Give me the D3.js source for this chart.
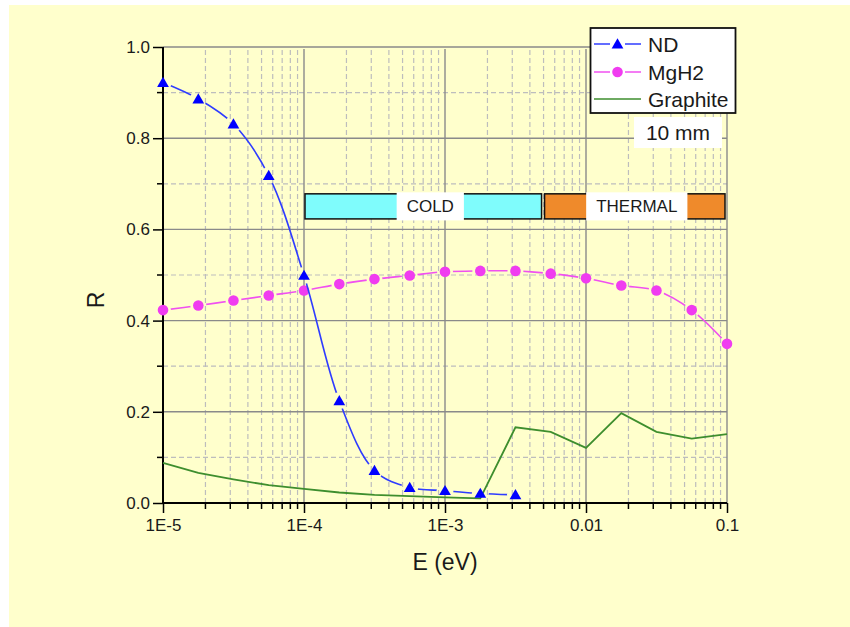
<!DOCTYPE html>
<html>
<head>
  <script src="https://d3js.org/d3.v7.min.js"></script>
  <style>
    body { margin: 0; background: #ffffff; }
    text { font-family: "Liberation Sans", Arial, sans-serif; fill: #1a1a1a; }
  </style>
</head>
<body>
  <svg id="chart" width="850" height="627"></svg>
  <script>
    // energies (eV), quarter-decade steps
    const energy = [1e-5, 1.78e-5, 3.16e-5, 5.62e-5, 1e-4, 1.78e-4, 3.16e-4, 5.62e-4,
      1e-3, 1.78e-3, 3.16e-3, 5.62e-3, 1e-2, 1.78e-2, 3.16e-2, 5.62e-2, 0.1];

    const ndValues = [0.922, 0.886, 0.831, 0.718, 0.499, 0.224, 0.071, 0.034, 0.027, 0.021, 0.018];
    const mgh2Values = [0.423, 0.433, 0.444, 0.455, 0.466, 0.480, 0.491, 0.499, 0.507,
      0.509, 0.509, 0.503, 0.493, 0.477, 0.466, 0.423, 0.349];
    const graphiteValues = [0.088, 0.066, 0.052, 0.039, 0.031, 0.023, 0.018, 0.015, 0.0125,
      0.010, 0.166, 0.156, 0.121, 0.197, 0.156, 0.141, 0.151];

    const seriesNames = ['ND', 'MgH2', 'Graphite'];
    const bandLabels = ['COLD', 'THERMAL'];
    const bandEdges = [[1e-4, 5e-3], [5e-3, 0.1]];
    const bandR = [0.623, 0.678];

    const yTicks = [0, 0.2, 0.4, 0.6, 0.8, 1.0];
    const yMinor = [0.1, 0.3, 0.5, 0.7, 0.9];
    const xTicks = [1e-5, 1e-4, 1e-3, 1e-2, 0.1];
    const xTickLabels = ['1E-5', '1E-4', '1E-3', '0.01', '0.1'];

    const svg = d3.select('#chart');
    const pLeft = 163, pRight = 727, pTop = 47, pBottom = 503;

    const x = d3.scaleLog().domain([1e-5, 0.1]).range([pLeft, pRight]);
    const y = d3.scaleLinear().domain([0, 1]).range([pBottom, pTop]);

    // background panel
    svg.append('rect').attr('x', 9).attr('y', 5).attr('width', 841).attr('height', 622)
      .attr('fill', '#ffffcc');

    // minor x values 2..9 per decade
    const xMinor = [];
    xTicks.slice(0, -1).forEach(d => { for (let k = 2; k <= 9; k++) xMinor.push(d * k); });

    const grid = svg.append('g');
    grid.selectAll('.vminor').data(xMinor).enter().append('line')
      .attr('x1', d => x(d)).attr('x2', d => x(d)).attr('y1', pBottom).attr('y2', pTop + 2)
      .attr('stroke', '#bdbdbd').attr('stroke-width', 1.2).attr('stroke-dasharray', '5,3');
    grid.selectAll('.hminor').data(yMinor).enter().append('line')
      .attr('x1', pLeft).attr('x2', pRight).attr('y1', d => y(d)).attr('y2', d => y(d))
      .attr('stroke', '#bdbdbd').attr('stroke-width', 1.2).attr('stroke-dasharray', '5,3');
    grid.selectAll('.vmajor').data(xTicks.slice(1)).enter().append('line')
      .attr('x1', d => x(d)).attr('x2', d => x(d)).attr('y1', pBottom).attr('y2', pTop + 2)
      .attr('stroke', '#8a8a8a').attr('stroke-width', 1.4);
    grid.selectAll('.hmajor').data(yTicks.slice(1)).enter().append('line')
      .attr('x1', pLeft).attr('x2', pRight).attr('y1', d => y(d)).attr('y2', d => y(d))
      .attr('stroke', '#8a8a8a').attr('stroke-width', 1.4);

    // axes
    const yAxis = svg.append('g').attr('transform', `translate(${pLeft},0)`)
      .call(d3.axisLeft(y).tickValues(yTicks).tickFormat(d3.format('.1f')).tickSize(10).tickPadding(3));
    yAxis.append('g').selectAll('line').data(yMinor).enter().append('line')
      .attr('x1', -6).attr('x2', 0).attr('y1', d => y(d)).attr('y2', d => y(d))
      .attr('stroke', '#000').attr('stroke-width', 1.5);

    const xAxis = svg.append('g').attr('transform', `translate(0,${pBottom})`)
      .call(d3.axisBottom(x).tickValues(xTicks).tickFormat((d, i) => xTickLabels[i]).tickSize(10).tickPadding(6));
    xAxis.append('g').selectAll('line').data(xMinor).enter().append('line')
      .attr('x1', d => x(d)).attr('x2', d => x(d)).attr('y1', 0).attr('y2', 6)
      .attr('stroke', '#000').attr('stroke-width', 1.5);

    [yAxis, xAxis].forEach(a => {
      a.select('.domain').attr('stroke', '#000').attr('stroke-width', 2);
      a.selectAll('.tick line').attr('stroke', '#000').attr('stroke-width', 1.5);
      a.selectAll('.tick text').style('font-size', '17px').attr('fill', '#1a1a1a');
    });
    yAxis.select('.domain').attr('d', `M0,${pBottom}V${pTop}`);
    xAxis.select('.domain').attr('d', `M${pLeft},0H${pRight}`);

    svg.append('text').attr('transform', `translate(104,300) rotate(-90)`)
      .attr('text-anchor', 'middle').style('font-size', '23px').text('R');
    svg.append('text').attr('x', 445).attr('y', 570)
      .attr('text-anchor', 'middle').style('font-size', '23px').text('E (eV)');

    // COLD / THERMAL bands
    const bandFill = ['#7ffcfc', '#ef8a2b'];
    const labelShift = [7, 2];
    const bands = svg.append('g');
    bandEdges.forEach((b, i) => {
      const x0 = x(b[0]) + 1, x1 = x(b[1]) - 2;
      bands.append('rect').attr('x', x0).attr('y', y(bandR[1])).attr('width', x1 - x0)
        .attr('height', y(bandR[0]) - y(bandR[1]))
        .attr('fill', bandFill[i]).attr('stroke', '#111').attr('stroke-width', 1.5);
      const box = bands.append('rect').attr('fill', '#fff');
      const t = bands.append('text').attr('x', (x0 + x1) / 2 + labelShift[i]).attr('y', y((bandR[0] + bandR[1]) / 2))
        .attr('dy', '0.35em').attr('text-anchor', 'middle').style('font-size', '17px').text(bandLabels[i]);
      const bb = t.node().getBBox();
      box.attr('x', bb.x - 10).attr('y', y(bandR[1]) - 1.5).attr('width', bb.width + 20)
        .attr('height', y(bandR[0]) - y(bandR[1]) + 3);
    });

    // series
    const colors = { ND: '#2f3cff', MgH2: '#f050f0', Graphite: '#3e8e2e' };
    const markColor = { ND: '#0000ff', MgH2: '#f03cf0' };
    const defs = svg.append('defs');

    function gapMask(id, pts, r) {
      const m = defs.append('mask').attr('id', id).attr('maskUnits', 'userSpaceOnUse')
        .attr('x', 0).attr('y', 0).attr('width', 850).attr('height', 627);
      m.append('rect').attr('width', 850).attr('height', 627).attr('fill', '#fff');
      m.selectAll('circle').data(pts).enter().append('circle')
        .attr('cx', d => x(d[0])).attr('cy', d => y(d[1])).attr('r', r).attr('fill', '#000');
    }

    const graphitePts = energy.map((e, i) => [e, graphiteValues[i]]);
    svg.append('path').datum(graphitePts)
      .attr('d', d3.line().x(d => x(d[0])).y(d => y(d[1])))
      .attr('fill', 'none').attr('stroke', colors.Graphite).attr('stroke-width', 1.8);

    const mgPts = energy.map((e, i) => [e, mgh2Values[i]]);
    gapMask('mgMask', mgPts, 8);
    svg.append('path').datum(mgPts)
      .attr('d', d3.line().x(d => x(d[0])).y(d => y(d[1])).curve(d3.curveCatmullRom.alpha(0.5)))
      .attr('fill', 'none').attr('stroke', colors.MgH2).attr('stroke-width', 1.6)
      .attr('mask', 'url(#mgMask)');
    svg.selectAll('.mg').data(mgPts).enter().append('circle')
      .attr('cx', d => x(d[0])).attr('cy', d => y(d[1])).attr('r', 5.3).attr('fill', markColor.MgH2);

    const ndPts = ndValues.map((v, i) => [energy[i], v]);
    gapMask('ndMask', ndPts, 8.5);
    svg.append('path').datum(ndPts)
      .attr('d', d3.line().x(d => x(d[0])).y(d => y(d[1])).curve(d3.curveCatmullRom.alpha(0.5)))
      .attr('fill', 'none').attr('stroke', colors.ND).attr('stroke-width', 1.6)
      .attr('mask', 'url(#ndMask)');
    const tri = d3.symbol().type(d3.symbolTriangle).size(60);
    svg.selectAll('.nd').data(ndPts).enter().append('path')
      .attr('d', tri).attr('transform', d => `translate(${x(d[0])},${y(d[1]) + 1})`)
      .attr('fill', markColor.ND);

    // legend
    const lg = svg.append('g');
    lg.append('rect').attr('x', 590.5).attr('y', 28).attr('width', 145).attr('height', 85)
      .attr('fill', '#fff').attr('stroke', '#111').attr('stroke-width', 1.8);
    const rowY = [44, 72, 99];
    seriesNames.forEach((name, i) => {
      lg.append('line').attr('x1', 594).attr('x2', 641).attr('y1', rowY[i]).attr('y2', rowY[i])
        .attr('stroke', colors[name]).attr('stroke-width', 1.6);
      if (name === 'ND') {
        lg.append('rect').attr('x', 610).attr('y', rowY[i] - 7).attr('width', 15).attr('height', 14).attr('fill', '#fff');
        lg.append('path').attr('d', tri).attr('transform', `translate(617.5,${rowY[i] + 1})`).attr('fill', markColor.ND);
      } else if (name === 'MgH2') {
        lg.append('rect').attr('x', 610).attr('y', rowY[i] - 7).attr('width', 15).attr('height', 14).attr('fill', '#fff');
        lg.append('circle').attr('cx', 617.5).attr('cy', rowY[i]).attr('r', 5.3).attr('fill', markColor.MgH2);
      }
      lg.append('text').attr('x', 648).attr('y', rowY[i]).attr('dy', '0.36em')
        .style('font-size', '21px').text(name);
    });

    svg.append('rect').attr('x', 634).attr('y', 117).attr('width', 88).attr('height', 31).attr('fill', '#fff');
    svg.append('text').attr('x', 678).attr('y', 132.5).attr('dy', '0.36em').attr('text-anchor', 'middle')
      .style('font-size', '21px').text('10 mm');
  </script>
</body>
</html>
